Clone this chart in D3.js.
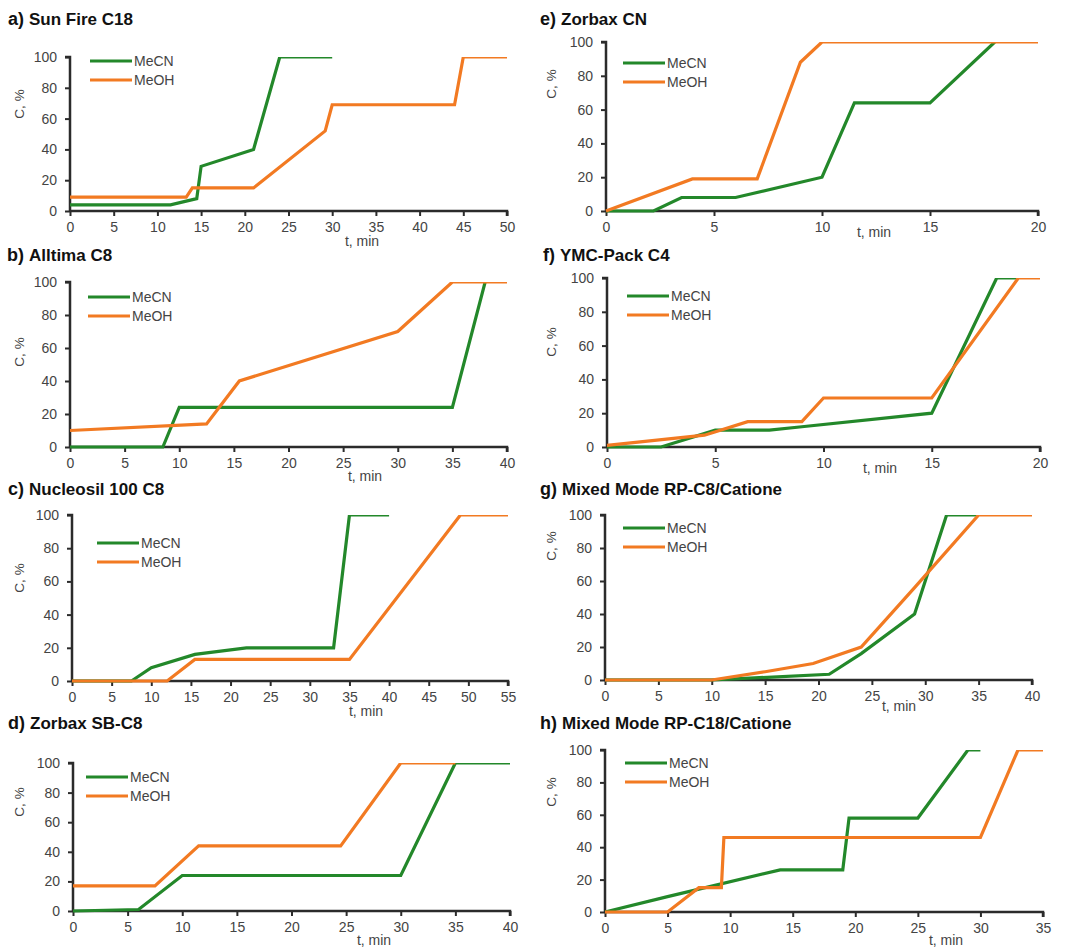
<!DOCTYPE html>
<html><head><meta charset="utf-8">
<script src="https://cdn.jsdelivr.net/npm/d3@7"></script>
<style>
body{margin:0;background:#fff}
svg{display:block}
</style></head>
<body><svg id="chart" width="1065" height="949"></svg>
<script>
// ---- data (t in min, C in %) ----
const seriesNames = ["MeCN", "MeOH"];
const yTickValues = [0, 20, 40, 60, 80, 100];
const panelKeys = ["a", "b", "c", "d", "e", "f", "g", "h"];
const panelTitles = ["Sun Fire C18", "Alltima C8", "Nucleosil 100 C8", "Zorbax SB-C8",
                     "Zorbax CN", "YMC-Pack C4", "Mixed Mode RP-C8/Catione", "Mixed Mode RP-C18/Catione"];
const panelXMax = [50, 40, 55, 40, 20, 20, 40, 35];

const aMeCN = [[0,4],[11.5,4],[14.5,8],[15,29],[21,40],[24,100],[30,100]];
const aMeOH = [[0,9],[13.3,9],[14,15],[21,15],[29.2,52],[30,69],[44,69],[45,100],[50,100]];
const bMeCN = [[0,0],[8.5,0],[10,24],[35,24],[38,100]];
const bMeOH = [[0,10],[12.5,14],[15.5,40],[30,70],[35,100],[40,100]];
const cMeCN = [[0,0],[7.5,0],[10,8],[15.5,16],[22,20],[33,20],[35,100],[40,100]];
const cMeOH = [[0,0],[12,0],[15.5,13],[35,13],[49,100],[55,100]];
const dMeCN = [[0,0],[6,1],[10,24],[30,24],[35,100],[40,100]];
const dMeOH = [[0,17],[7.5,17],[11.5,44],[24.5,44],[30,100],[35,100]];
const eMeCN = [[0,0],[2.2,0],[3.5,8],[6,8],[10,20],[11.5,64],[15,64],[18,100]];
const eMeOH = [[0,0],[4,19],[7,19],[9,88],[10,100],[20,100]];
const fMeCN = [[0,0],[2.5,0],[5,10],[7.5,10],[9,12],[15,20],[18,100],[19,100]];
const fMeOH = [[0,1],[4.5,7],[6.5,15],[9,15],[10,29],[15,29],[19,100],[20,100]];
const gMeCN = [[0,0],[10,0],[21,3.5],[24,16],[29,40],[32,100],[35,100]];
const gMeOH = [[0,0],[10,0],[15,5],[19.5,10],[24,20],[29,56],[35,100],[40,100]];
const hMeCN = [[0,0],[5,9.5],[14,26],[19,26],[19.5,58],[25,58],[29,100],[30,100]];
const hMeOH = [[0,0],[5,0],[7.5,15],[9.3,15],[9.5,46],[30,46],[33,100],[35,100]];
const panelData = [[aMeCN,aMeOH],[bMeCN,bMeOH],[cMeCN,cMeOH],[dMeCN,dMeOH],
                   [eMeCN,eMeOH],[fMeCN,fMeOH],[gMeCN,gMeOH],[hMeCN,hMeOH]];

// ---- layout ----
const layout = [
  {x0:70, x1:507, y0:211, y1:57,  tx:8,   ty:25,  lx:90,  ly:61,  yl:[24,104], xl:[362,246]},
  {x0:70, x1:507, y0:447, y1:282, tx:7,   ty:261, lx:88,  ly:297, yl:[24,352], xl:[365,481]},
  {x0:72, x1:508, y0:681, y1:515, tx:8,   ty:495, lx:97,  ly:543, yl:[24,578], xl:[366,716]},
  {x0:73, x1:510, y0:911, y1:763, tx:8,   ty:729, lx:86,  ly:777, yl:[24,802], xl:[374,945]},
  {x0:606,x1:1038,y0:211, y1:42,  tx:540, ty:25,  lx:623, ly:63,  yl:[556,84], xl:[874,237]},
  {x0:607,x1:1040,y0:447, y1:278, tx:543, ty:261, lx:627, ly:296, yl:[556,342],xl:[880,473]},
  {x0:605,x1:1032,y0:680, y1:515, tx:540, ty:495, lx:623, ly:528, yl:[556,546],xl:[899,711]},
  {x0:605,x1:1043,y0:912, y1:750, tx:540, ty:729, lx:625, ly:763, yl:[556,792],xl:[946,945]}
];
const colors = {MeCN:"#23882a", MeOH:"#f27a22"};
const FONT = '"Liberation Sans",Arial,sans-serif';

const svg = d3.select("#chart").style("font-family", FONT);
const defs = svg.append("defs");

panelKeys.forEach((k, i) => {
  const L = layout[i];
  const x = d3.scaleLinear().domain([0, panelXMax[i]]).range([L.x0, L.x1]);
  const y = d3.scaleLinear().domain([0, 100]).range([L.y0, L.y1]);
  const g = svg.append("g");

  // title
  const t = g.append("text").attr("x", L.tx).attr("y", L.ty)
    .style("font-family", FONT).style("font-weight", "bold").style("font-size", "17px").attr("fill", "#111");
  t.append("tspan").style("font-size", "18px").text(k + ") ");
  t.append("tspan").text(panelTitles[i]);

  // clip (top at 100 %)
  defs.append("clipPath").attr("id", "clip" + k).append("rect")
    .attr("x", L.x0 - 5).attr("y", y(100)).attr("width", L.x1 - L.x0 + 10).attr("height", L.y0 - y(100) + 5);

  // axes
  const yAxis = d3.axisLeft(y).tickValues(yTickValues).tickSize(5).tickPadding(8);
  const xAxis = d3.axisBottom(x).tickValues(d3.range(0, panelXMax[i] + 0.1, 5)).tickSize(5).tickPadding(6);
  const ya = g.append("g").attr("transform", `translate(${L.x0},0)`).call(yAxis);
  const xa = g.append("g").attr("transform", `translate(0,${L.y0})`).call(xAxis);
  [ya, xa].forEach(a => {
    a.attr("font-family", FONT);
    a.select(".domain").attr("stroke", "#2b2b2b").attr("stroke-width", 2.5);
    a.selectAll(".tick line").attr("stroke", "#2b2b2b").attr("stroke-width", 2);
    a.selectAll(".tick text").attr("font-size", 14).attr("fill", "#444");
  });
  ya.select(".domain").attr("d", `M-5,${y(100)}H0V${L.y0}`);
  xa.select(".domain").attr("d", `M${L.x0},0H${L.x1}V5`);

  // axis titles
  g.append("text").attr("transform", `translate(${L.yl[0]},${L.yl[1]}) rotate(-90)`)
    .attr("text-anchor", "middle").attr("font-size", 13.5).attr("fill", "#444").text("C, %");
  g.append("text").attr("x", L.xl[0]).attr("y", L.xl[1])
    .attr("text-anchor", "middle").attr("font-size", 14).attr("fill", "#444").text("t, min");

  // lines
  const line = d3.line().x(d => x(d[0])).y(d => y(d[1]));
  const pg = g.append("g").attr("clip-path", `url(#clip${k})`);
  panelData[i].forEach((s, j) => {
    pg.append("path").datum(s).attr("d", line).attr("fill", "none")
      .attr("stroke", colors[seriesNames[j]]).attr("stroke-width", 3.2)
      .attr("stroke-linejoin", "miter");
  });

  // legend
  seriesNames.forEach((n, j) => {
    const ly = L.ly + j * 19;
    g.append("line").attr("x1", L.lx).attr("x2", L.lx + 42).attr("y1", ly).attr("y2", ly)
      .attr("stroke", colors[n]).attr("stroke-width", 3.2);
    g.append("text").attr("x", L.lx + 44).attr("y", ly + 5).attr("font-size", 14)
      .attr("fill", "#444").text(n);
  });
});
</script></body></html>
